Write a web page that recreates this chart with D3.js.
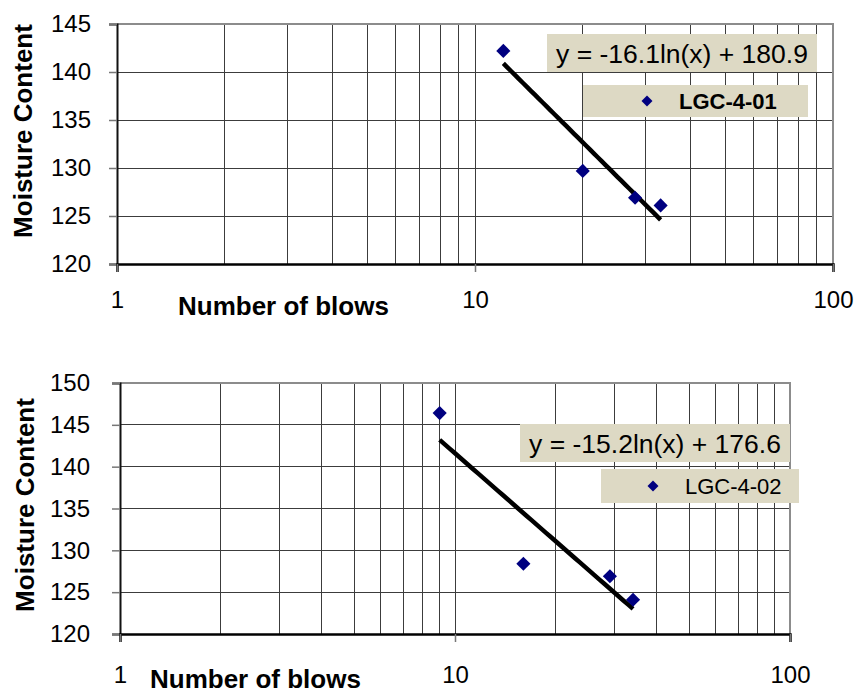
<!DOCTYPE html>
<html>
<head>
<meta charset="utf-8">
<script src="https://cdn.jsdelivr.net/npm/d3@7"></script>
<style>
  html, body { margin: 0; padding: 0; background: #fff; }
  svg { display: block; font-family: "Liberation Sans", Arial, sans-serif; }
</style>
</head>
<body>
<svg id="chart" width="856" height="695"></svg>
<script>
// Liquid limit test results: blow counts vs. moisture content
const blows1 = [12, 20, 28, 33];
const moisture1 = [142.2, 129.7, 126.9, 126.1];
const fit1 = { slope: -16.1, intercept: 180.9 };
const name1 = "LGC-4-01";

const blows2 = [9, 16, 29, 34];
const moisture2 = [146.4, 128.4, 126.9, 124.1];
const fit2 = { slope: -15.2, intercept: 176.6 };
const name2 = "LGC-4-02";

const xTickValues = [1, 10, 100];
const yTicks1 = [120, 125, 130, 135, 140, 145];
const yTicks2 = [120, 125, 130, 135, 140, 145, 150];

const svg = d3.select("#chart");
const navy = "#000080";
const boxFill = "#DDD9C4";

function fmt(v) { return v.toFixed(1); }

function drawPanel(cfg) {
  const { blows, moisture, fit, name, yTicks, box, legendBold } = cfg;
  const x = d3.scaleLog().domain([1, 100]).range([cfg.left, cfg.right]);
  const y = d3.scaleLinear().domain([yTicks[0], yTicks[yTicks.length - 1]]).range([cfg.bottom, cfg.top]);
  const g = svg.append("g");

  // vertical minor gridlines (2..9, 10, 20..90)
  const minor = [];
  for (let d = 1; d <= 10; d *= 10) for (let k = 2; k <= 9; k++) minor.push(k * d);
  minor.push(10);
  g.append("g").selectAll("line").data(minor).join("line")
    .attr("x1", d => x(d)).attr("x2", d => x(d))
    .attr("y1", cfg.top).attr("y2", cfg.bottom)
    .attr("stroke", "#3c3c3c").attr("stroke-width", 1).attr("shape-rendering", "crispEdges");

  // horizontal gridlines
  g.append("g").selectAll("line").data(yTicks.slice(1, -1)).join("line")
    .attr("x1", cfg.left).attr("x2", cfg.right)
    .attr("y1", d => y(d)).attr("y2", d => y(d))
    .attr("stroke", "#3c3c3c").attr("stroke-width", 1).attr("shape-rendering", "crispEdges");

  // plot frame: top and right in grey
  g.append("path")
    .attr("d", `M${cfg.left},${cfg.top}H${cfg.right}V${cfg.bottom}`)
    .attr("fill", "none").attr("stroke", "#8c8c8c").attr("stroke-width", 2);

  // y axis
  const yAxis = d3.axisLeft(y).tickValues(yTicks).tickSize(8).tickPadding(cfg.yPad).tickFormat(d3.format("d"));
  const ya = g.append("g").attr("transform", `translate(${cfg.left},0)`).call(yAxis);
  ya.select(".domain").attr("stroke", "#111").attr("stroke-width", 2);
  ya.selectAll(".tick line").attr("stroke", "#777").attr("stroke-width", 1.5);
  ya.selectAll("text").attr("font-size", 24).attr("fill", "#000")
    .attr("font-family", "'Liberation Sans', Arial, sans-serif");

  // x axis
  const xAxis = d3.axisBottom(x).tickValues(xTickValues).tickSize(8).tickPadding(cfg.xPad).tickFormat(d3.format("d"));
  const xa = g.append("g").attr("transform", `translate(0,${cfg.bottom})`).call(xAxis);
  xa.select(".domain").attr("stroke", "#000").attr("stroke-width", 2.5);
  xa.selectAll(".tick line").attr("stroke", "#777").attr("stroke-width", 1.5);
  xa.selectAll("text").attr("font-size", 24).attr("fill", "#000")
    .attr("font-family", "'Liberation Sans', Arial, sans-serif");

  // axis titles
  g.append("text")
    .attr("transform", `translate(${cfg.yTitleX},${cfg.yTitleY}) rotate(-90)`)
    .attr("text-anchor", "middle").attr("font-weight", "bold").attr("font-size", 26)
    .text("Moisture Content");
  g.append("text")
    .attr("x", cfg.xTitleX).attr("y", cfg.xTitleY)
    .attr("font-weight", "bold").attr("font-size", 26)
    .text("Number of blows");

  // logarithmic trendline over the data range
  const xs = d3.extent(blows);
  const trend = d3.range(0, 41).map(i => {
    const bx = xs[0] * Math.pow(xs[1] / xs[0], i / 40);
    return [bx, fit.slope * Math.log(bx) + fit.intercept];
  });
  g.append("path")
    .datum(trend)
    .attr("d", d3.line().x(d => x(d[0])).y(d => y(d[1])))
    .attr("fill", "none").attr("stroke", "#000").attr("stroke-width", 4.5);

  // data markers
  const diamond = d3.symbol().type(d3.symbolSquare).size(100);
  g.append("g").selectAll("path").data(blows.map((b, i) => [b, moisture[i]])).join("path")
    .attr("d", diamond)
    .attr("transform", d => `translate(${x(d[0])},${y(d[1])}) rotate(45)`)
    .attr("fill", navy);

  // equation label
  const eq = box.eq;
  g.append("rect").attr("x", eq.x).attr("y", eq.y).attr("width", eq.w).attr("height", eq.h).attr("fill", boxFill);
  g.append("text").attr("x", eq.x + eq.w / 2).attr("y", eq.y + eq.h - 9)
    .attr("text-anchor", "middle").attr("font-size", 26.5)
    .text(`y = ${fmt(fit.slope)}ln(x) + ${fmt(fit.intercept)}`);

  // legend
  const lg = box.legend;
  g.append("rect").attr("x", lg.x).attr("y", lg.y).attr("width", lg.w).attr("height", lg.h).attr("fill", boxFill);
  g.append("path").attr("d", d3.symbol().type(d3.symbolSquare).size(60))
    .attr("transform", `translate(${lg.mx},${lg.y + lg.h / 2}) rotate(45)`).attr("fill", navy);
  g.append("text").attr("x", lg.tx).attr("y", lg.y + lg.h / 2 + 8)
    .attr("font-size", 22).attr("font-weight", legendBold ? "bold" : "normal")
    .text(name);
}

drawPanel({
  blows: blows1, moisture: moisture1, fit: fit1, name: name1, yTicks: yTicks1,
  left: 117, right: 833, top: 24, bottom: 264,
  yPad: 18, xPad: 19,
  yTitleX: 32, yTitleY: 131, xTitleX: 178, xTitleY: 315,
  legendBold: true,
  box: {
    eq: { x: 547, y: 34, w: 270, h: 38 },
    legend: { x: 583, y: 85, w: 225, h: 32, mx: 647, tx: 679 }
  }
});

drawPanel({
  blows: blows2, moisture: moisture2, fit: fit2, name: name2, yTicks: yTicks2,
  left: 120, right: 790, top: 383, bottom: 634,
  yPad: 22, xPad: 24,
  yTitleX: 34, yTitleY: 505, xTitleX: 150, xTitleY: 688,
  legendBold: false,
  box: {
    eq: { x: 520, y: 424, w: 270, h: 38 },
    legend: { x: 601, y: 469, w: 198, h: 34, mx: 653, tx: 685 }
  }
});
</script>
</body>
</html>
